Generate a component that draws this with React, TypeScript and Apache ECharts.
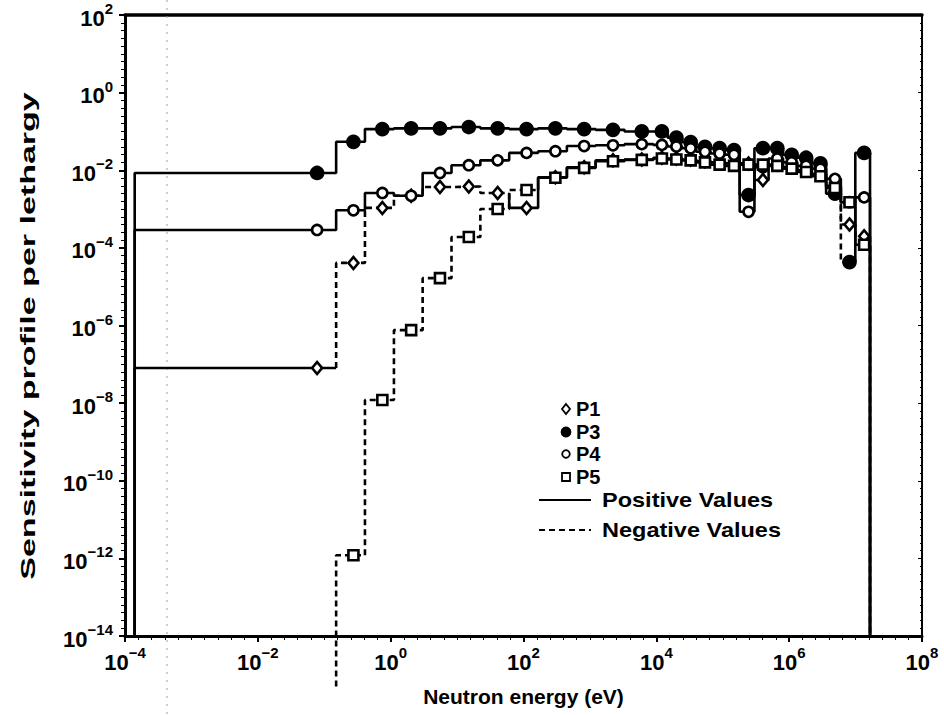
import React, { useEffect, useRef } from "react";
import * as echarts from "echarts";

// Energy group boundaries (eV): thermal group, lethargy-1 groups, then half-lethargy groups
const groupEdges = [
  1.4e-4, 0.151, 0.41, 1.12, 3.03, 8.24, 22.4, 60.9, 166, 450, 1220, 3320, 9000,
  1.48e4, 2.45e4, 4.0e4, 6.6e4, 1.1e5, 1.8e5, 3.0e5, 4.9e5, 8.1e5, 1.33e6, 2.2e6,
  3.6e6, 6.0e6, 9.9e6, 1.65e7,
];
const thermalMarkerEnergy = 0.078;

// Sensitivity per lethargy for each group (negative values = dashed)
const p1Values = [
  8e-8, -4.1e-5, -1.07e-3, -2.2e-3, -3.7e-3, -3.8e-3, -2.6e-3, 1.07e-3, 6.6e-3, 1.2e-2,
  1.8e-2, 1.9e-2, 2.1e-2, 2.0e-2, 1.9e-2, 1.7e-2, 1.6e-2, 1.5e-2, 1.5e-2, 5.6e-3,
  1.4e-2, 1.2e-2, 1.0e-2, 8e-3, 4e-3, -4e-4, -2e-4,
];
const p3Values = [
  8.5e-3, 5.4e-2, 0.115, 0.12, 0.12, 0.13, 0.12, 0.115, 0.12, 0.115, 0.11, 0.1, 0.1,
  0.069, 0.053, 0.04, 0.037, 0.033, 2.3e-3, 0.037, 0.037, 0.025, 0.021, 0.015, 2.5e-3,
  -4.3e-5, 0.028,
];
const p4Values = [
  2.9e-4, 9.3e-4, 2.6e-3, 2.2e-3, 8.5e-3, 1.35e-2, 1.8e-2, 2.8e-2, 3.1e-2, 4.2e-2, 4.4e-2,
  4.7e-2, 4.5e-2, 4.1e-2, 3.7e-2, 3.0e-2, 2.7e-2, 2.5e-2, 8.5e-4, 1.2e-2, 2.0e-2, 1.6e-2,
  1.3e-2, 1.1e-2, 6e-3, 1.5e-3, 2e-3,
];
const p5Values = [
  null, -1.2e-12, -1.2e-8, -7.6e-7, -1.66e-5, -1.9e-4, -1.0e-3, -3.1e-3, 6.4e-3, 1.15e-2,
  1.7e-2, 1.85e-2, 2.0e-2, 1.9e-2, 1.8e-2, 1.6e-2, 1.4e-2, 1.3e-2, 1.4e-2, 1.4e-2, 1.3e-2,
  1.1e-2, 9e-3, 7e-3, 3.5e-3, 1.5e-3, 1.2e-4,
];

const seriesNames = ["P1", "P3", "P4", "P5"];
const lineStyleLabels = ["Positive Values", "Negative Values"];
const xAxisTitle = "Neutron energy (eV)";
const yAxisTitle = "Sensitivity profile per lethargy";

// Axis decades (log10 exponents) and tick step
const X_EXP_MIN = -4;
const X_EXP_MAX = 8;
const Y_EXP_MIN = -14;
const Y_EXP_MAX = 2;
const EXP_STEP = 2;
const BELOW_AXIS_EXP = -15.3;

const FONT = "'Liberation Sans', Arial, Helvetica, sans-serif";
const lg = (v: number) => Math.log10(v);

const markerEnergies = groupEdges.slice(0, -1).map((lo, i) => {
  if (i === 0) return thermalMarkerEnergy;
  const hi = groupEdges[i + 1];
  return Math.pow(10, lg(lo) + 0.6 * (lg(hi) - lg(lo)));
});

type Run = { sign: number; pts: number[][] };

// Step outline of each series, split into runs of equal sign (positive: solid, negative: dashed)
function buildRuns(vals: (number | null)[]): Run[] {
  const runs: Run[] = [];
  let cur: Run | null = null;
  for (let i = 0; i < vals.length; i++) {
    const v = vals[i];
    if (v == null) {
      cur = null;
      continue;
    }
    const sign = v > 0 ? 1 : -1;
    const lo = lg(groupEdges[i]);
    const hi = lg(groupEdges[i + 1]);
    const y = lg(Math.abs(v));
    if (!cur || cur.sign !== sign) {
      const prev =
        i === 0 ? Y_EXP_MIN : vals[i - 1] == null ? BELOW_AXIS_EXP : lg(Math.abs(vals[i - 1] as number));
      cur = { sign, pts: [[lo, prev]] };
      runs.push(cur);
    }
    cur.pts.push([lo, y]);
    cur.pts.push([hi, y]);
  }
  if (cur) cur.pts.push([lg(groupEdges[groupEdges.length - 1]), Y_EXP_MIN]);
  return runs;
}

const supLabel = (e: number) => {
  const r = Math.round(e);
  if (r % EXP_STEP !== 0) return "";
  return "{b|10}{s|" + (r < 0 ? "\u2212" : "") + Math.abs(r) + "}";
};

const labelRich = {
  b: { fontSize: 22, fontWeight: "bold", fontFamily: FONT, color: "#000", lineHeight: 28, verticalAlign: "bottom" },
  s: { fontSize: 15, fontWeight: "bold", fontFamily: FONT, color: "#000", verticalAlign: "top", lineHeight: 15 },
};

export default function App() {
  const ref = useRef<HTMLDivElement>(null);

  useEffect(() => {
    if (!ref.current) return;
    const chart = echarts.init(ref.current, null, { renderer: "svg" });

    const allVals = [p1Values, p3Values, p4Values, p5Values];
    const markerDefs = [
      { symbol: "diamond", size: [10, 12], fill: "#fff" },
      { symbol: "circle", size: 12, fill: "#000" },
      { symbol: "circle", size: 10, fill: "#fff" },
      { symbol: "rect", size: 10, fill: "#fff" },
    ];

    const series: any[] = [];
    allVals.forEach((vals, k) => {
      buildRuns(vals).forEach((run) => {
        series.push({
          type: "line",
          name: seriesNames[k] + (run.sign > 0 ? "+" : "-"),
          data: run.pts,
          symbol: "none",
          showSymbol: false,
          clip: false,
          silent: true,
          z: 3,
          lineStyle: { color: "#000", width: 2.6, type: run.sign > 0 ? "solid" : [6, 4] },
        });
      });
    });
    allVals.forEach((vals, k) => {
      const d = markerDefs[k];
      series.push({
        type: "scatter",
        name: seriesNames[k],
        data: vals
          .map((v, i) => (v == null ? null : [lg(markerEnergies[i]), lg(Math.abs(v))]))
          .filter((p) => p != null),
        symbol: d.symbol,
        symbolSize: d.size,
        z: 5 + k,
        silent: true,
        itemStyle: { color: d.fill, borderColor: "#000", borderWidth: 2.6, opacity: 1 },
      });
    });

    const legendX = 566;
    const legendRows = [409, 432, 454, 477];
    const legendGraphics: any[] = [];
    seriesNames.forEach((nm, k) => {
      const y = legendRows[k];
      const d = markerDefs[k];
      if (d.symbol === "diamond") {
        legendGraphics.push({
          type: "polygon",
          shape: { points: [[legendX, y - 5], [legendX + 4, y], [legendX, y + 5], [legendX - 4, y]] },
          style: { fill: "#fff", stroke: "#000", lineWidth: 1.8 },
        });
      } else if (d.symbol === "circle") {
        legendGraphics.push({
          type: "circle",
          shape: { cx: legendX, cy: y, r: d.fill === "#000" ? 4.5 : 3.8 },
          style: { fill: d.fill, stroke: "#000", lineWidth: 1.8 },
        });
      } else {
        legendGraphics.push({
          type: "rect",
          shape: { x: legendX - 4, y: y - 4, width: 8, height: 8 },
          style: { fill: "#fff", stroke: "#000", lineWidth: 1.8 },
        });
      }
      legendGraphics.push({
        type: "text",
        x: legendX + 10,
        y,
        style: { text: nm, font: "bold 20px " + FONT, fill: "#000", verticalAlign: "middle" },
      });
    });
    [500, 530].forEach((y, k) => {
      legendGraphics.push({
        type: "line",
        shape: { x1: 539, y1: y, x2: 591, y2: y },
        style: { stroke: "#000", lineWidth: 2, lineDash: k === 0 ? null : [6, 4] },
      });
      legendGraphics.push({
        type: "text",
        x: 602,
        y,
        scaleX: 1.12,
        style: { text: lineStyleLabels[k], font: "bold 21px " + FONT, fill: "#000", verticalAlign: "middle" },
      });
    });

    const commonX = {
      type: "value",
      min: X_EXP_MIN,
      max: X_EXP_MAX,
      interval: EXP_STEP,
      splitLine: { show: false },
    };
    const commonY = {
      type: "value",
      min: Y_EXP_MIN,
      max: Y_EXP_MAX,
      interval: EXP_STEP,
      splitLine: { show: false },
    };

    chart.setOption({
      animation: false,
      backgroundColor: "#fff",
      grid: { left: 125, right: 22, top: 15, bottom: 79, containLabel: false },
      xAxis: [
        {
          ...commonX,
          position: "bottom",
          axisLine: { onZero: false, lineStyle: { color: "#000", width: 3 } },
          axisTick: { show: true, inside: false, length: 6, lineStyle: { color: "#000", width: 2 } },
          minorTick: { show: true, splitNumber: 10, length: 4, lineStyle: { color: "#000", width: 1 } },
          axisLabel: { formatter: supLabel, rich: labelRich, margin: 9 },
          name: xAxisTitle,
          nameLocation: "middle",
          nameGap: 50,
          nameTextStyle: { fontSize: 21, fontWeight: "bold", fontFamily: FONT, color: "#000" },
        },
        {
          ...commonX,
          position: "top",
          axisLine: { onZero: false, lineStyle: { color: "#000", width: 3.5 } },
          axisTick: { show: false },
          axisLabel: { show: false },
        },
      ],
      yAxis: [
        {
          ...commonY,
          position: "left",
          axisLine: { show: true, onZero: false, lineStyle: { color: "#000", width: 3 } },
          axisTick: { show: true, inside: false, length: 6, lineStyle: { color: "#000", width: 2 } },
          minorTick: { show: true, splitNumber: 10, length: 4, lineStyle: { color: "#000", width: 1 } },
          axisLabel: { formatter: supLabel, rich: labelRich, margin: 12 },
        },
        {
          ...commonY,
          position: "right",
          axisLine: { show: true, onZero: false, lineStyle: { color: "#000", width: 2 } },
          axisTick: { show: true, inside: true, length: 4, lineStyle: { color: "#000", width: 1 } },
          minorTick: { show: true, splitNumber: 10, length: 2, lineStyle: { color: "#000", width: 1 } },
          axisLabel: { show: false },
        },
      ],
      series,
      graphic: [
        {
          type: "line",
          shape: { x1: 167, y1: 0, x2: 167, y2: 715 },
          style: { stroke: "#9a9a9a", lineWidth: 1, lineDash: [2, 6] },
          z: 1,
        },
        {
          type: "text",
          x: 28,
          y: 336,
          rotation: Math.PI / 2,
          scaleX: 1.62,
          style: {
            text: yAxisTitle,
            font: "bold 21px " + FONT,
            fill: "#000",
            align: "center",
            verticalAlign: "middle",
          },
        },
        ...legendGraphics,
      ],
    });

    return () => chart.dispose();
  }, []);

  return (
    <div
      ref={ref}
      style={{ position: "fixed", left: 0, top: 0, width: 944, height: 715, background: "#fff" }}
    />
  );
}
